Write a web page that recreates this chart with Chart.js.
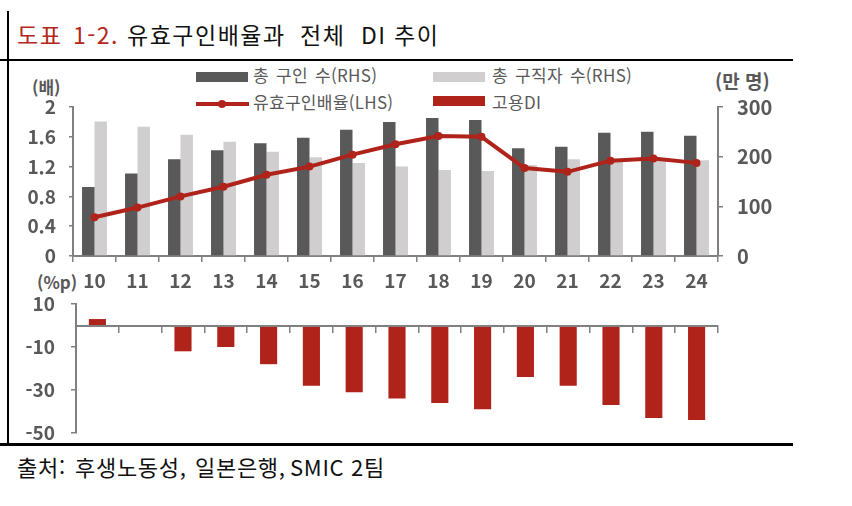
<!DOCTYPE html>
<html lang="ko">
<head>
<meta charset="utf-8">
<title>유효구인배율과 전체 DI 추이</title>
<script src="https://cdn.jsdelivr.net/npm/chart.js@4.4.1/dist/chart.umd.min.js"></script>
<style>
  body { margin: 0; background: #fff; font-family: 'Noto Sans CJK KR', 'Noto Sans', sans-serif; }
  #page { position: relative; width: 852px; height: 506px; overflow: hidden; }
  .tt { position: absolute; top: 19px; font-size: 23px; letter-spacing: 1.5px; color: #111; line-height: 30px; white-space: nowrap; }
  .tt.red { color: #b5261c; }
  .rule { position: absolute; background: #000; }
  .lg { position: absolute; font-size: 17px; letter-spacing: 0.3px; word-spacing: 2px; color: #595959; line-height: 20px; white-space: nowrap; }
  .unit { position: absolute; font-size: 17px; font-weight: 600; color: #595959; line-height: 20px; white-space: nowrap; }
  .src { position: absolute; top: 452px; font-size: 22px; letter-spacing: 0.7px; color: #111; line-height: 28px; white-space: nowrap; }
  #topBox { position: absolute; left: 0; top: 90px; width: 790px; height: 206px; }
  #botBox { position: absolute; left: 0; top: 290px; width: 790px; height: 155px; }
</style>
</head>
<body>
<div id="page">
  <div class="tt red" style="left:17px">도표</div>
  <div class="tt red" style="left:73px">1-2.</div>
  <div class="tt" style="left:127px">유효구인배율과</div>
  <div class="tt" style="left:300px">전체</div>
  <div class="tt" style="left:361px">DI</div>
  <div class="tt" style="left:394px">추이</div>

  <div class="rule" style="left:0;top:59px;width:793px;height:2px"></div>
  <div class="rule" style="left:7px;top:11px;width:2px;height:435px"></div>
  <div class="rule" style="left:0;top:443px;width:793px;height:3px"></div>

  <!-- 범례 -->
  <div class="lg" style="left:196px;top:72px;width:52px;height:10px;background:#595959"></div>
  <div class="lg" style="left:253px;top:65px">총 구인 수(RHS)</div>
  <div class="lg" style="left:196px;top:102px;width:53px;height:4px;background:#b0231a"></div>
  <div class="lg" style="left:218px;top:100px;width:8px;height:8px;border-radius:50%;background:#b0231a"></div>
  <div class="lg" style="left:253px;top:92px">유효구인배율(LHS)</div>
  <div class="lg" style="left:433px;top:72px;width:52px;height:10px;background:#d0cece"></div>
  <div class="lg" style="left:492px;top:65px">총 구직자 수(RHS)</div>
  <div class="lg" style="left:433px;top:96px;width:52px;height:10px;background:#b0231a"></div>
  <div class="lg" style="left:492px;top:92px">고용DI</div>

  <div class="unit" style="left:32px;top:77px">(배)</div>
  <div class="unit" style="left:715px;top:71px;font-size:19px">(만 명)</div>
  <div class="unit" style="left:37px;top:272px">(%p)</div>

  <div id="topBox"><canvas id="chartTop"></canvas></div>
  <div id="botBox"><canvas id="chartBot"></canvas></div>

  <div class="src" style="left:17px">출처:</div>
  <div class="src" style="left:75px">후생노동성,</div>
  <div class="src" style="left:195px">일본은행,</div>
  <div class="src" style="left:290px">SMIC 2팀</div>
</div>

<script>
// ===== 데이터 =====
const anos = ['10', '11', '12', '13', '14', '15', '16', '17', '18', '19', '20', '21', '22', '23', '24'];
const guinSu = [139, 166, 195, 213, 227, 238, 254, 270, 278, 274, 217, 220, 248, 250, 242];      // 총 구인 수 (만 명)
const gujikjaSu = [271, 260, 244, 230, 210, 199, 187, 180, 173, 171, 183, 195, 191, 192, 193];   // 총 구직자 수 (만 명)
const baeyul = [0.52, 0.65, 0.80, 0.93, 1.09, 1.20, 1.36, 1.50, 1.61, 1.60, 1.18, 1.13, 1.28, 1.31, 1.25]; // 유효구인배율 (배)
const goyongDI = [3, 0, -12, -10, -18, -28, -31, -34, -36, -39, -24, -28, -37, -43, -44];         // 고용DI (%p)
const ticksEsq = [0, 0.4, 0.8, 1.2, 1.6, 2];
const ticksDir = [0, 100, 200, 300];
const ticksDI = [10, -10, -30, -50];

const CINZA = '#595959';
const CINZA_CLARO = '#d0cece';
const VERMELHO = '#b0231a';
const EIXO = '#808080';
const FONTE = "'Noto Sans CJK KR', 'Noto Sans', sans-serif";

Chart.defaults.font.family = FONTE;
Chart.defaults.color = CINZA;
Chart.defaults.animation = false;

// largura fixa do eixo e sem folga extra em cima/embaixo
function fixaEixo(largura) {
  return s => {
    s.width = largura;
    s.paddingTop = 0;
    s.paddingBottom = 0;
  };
}

// ===== 위쪽 그래프 =====
new Chart(document.getElementById('chartTop'), {
  type: 'bar',
  data: {
    labels: anos,
    datasets: [
      {
        type: 'line',
        label: '유효구인배율(LHS)',
        data: baeyul,
        yAxisID: 'yL',
        borderColor: VERMELHO,
        backgroundColor: VERMELHO,
        borderWidth: 4,
        pointRadius: 4,
        pointBackgroundColor: VERMELHO,
        pointBorderWidth: 0,
        tension: 0,
        order: 0
      },
      {
        label: '총 구인 수(RHS)',
        data: guinSu,
        yAxisID: 'yR',
        backgroundColor: CINZA,
        categoryPercentage: 0.58,
        barPercentage: 1.0,
        order: 1
      },
      {
        label: '총 구직자 수(RHS)',
        data: gujikjaSu,
        yAxisID: 'yR',
        backgroundColor: CINZA_CLARO,
        categoryPercentage: 0.58,
        barPercentage: 1.0,
        order: 1
      }
    ]
  },
  options: {
    responsive: true,
    maintainAspectRatio: false,
    layout: { padding: { top: 17, left: 0, right: 0, bottom: 0 } },
    plugins: { legend: { display: false }, tooltip: { enabled: false } },
    scales: {
      x: {
        grid: { offset: true, drawOnChartArea: false, drawTicks: true, tickLength: 6, color: EIXO, lineWidth: 1.5 },
        border: { color: EIXO, width: 2 },
        ticks: { font: { size: 19, weight: '600' }, color: CINZA, padding: 7, maxRotation: 0 },
        afterFit: s => { s.height = 40; }
      },
      yL: {
        position: 'left',
        min: 0, max: 2,
        afterBuildTicks: s => { s.ticks = ticksEsq.map(v => ({ value: v })); },
        ticks: { font: { size: 19, weight: '600' }, color: CINZA, padding: 13, callback: v => String(+v.toFixed(1)) },
        grid: { drawOnChartArea: false, drawTicks: true, tickLength: 4, color: EIXO, lineWidth: 1.5 },
        border: { color: EIXO, width: 2 },
        afterFit: fixaEixo(73)
      },
      yR: {
        position: 'right',
        min: 0, max: 300,
        afterBuildTicks: s => { s.ticks = ticksDir.map(v => ({ value: v })); },
        ticks: { font: { size: 20, weight: '600' }, color: CINZA, padding: 14 },
        grid: { drawOnChartArea: false, drawTicks: true, tickLength: 5, color: EIXO, lineWidth: 1.5 },
        border: { color: EIXO, width: 2 },
        afterFit: fixaEixo(72)
      }
    }
  }
});

// ===== 아래쪽 그래프 (고용DI) =====
new Chart(document.getElementById('chartBot'), {
  type: 'bar',
  data: {
    labels: anos,
    datasets: [{
      label: '고용DI',
      data: goyongDI,
      backgroundColor: VERMELHO,
      categoryPercentage: 1.0,
      barPercentage: 0.4
    }]
  },
  options: {
    responsive: true,
    maintainAspectRatio: false,
    layout: { padding: { top: 14, left: 0, right: 72, bottom: 12 } },
    plugins: { legend: { display: false }, tooltip: { enabled: false } },
    scales: {
      x: {
        position: { y: 0 },
        grid: { offset: true, drawOnChartArea: false, drawTicks: true, tickLength: 6, color: EIXO, lineWidth: 1.5 },
        border: { color: EIXO, width: 2, z: 1 },
        ticks: { display: false }
      },
      y: {
        position: 'left',
        min: -50, max: 10,
        afterBuildTicks: s => { s.ticks = ticksDI.map(v => ({ value: v })); },
        ticks: { font: { size: 19, weight: '600' }, color: CINZA, padding: 16 },
        grid: { drawOnChartArea: false, drawTicks: true, tickLength: 5, color: EIXO, lineWidth: 1.5 },
        border: { color: EIXO, width: 2 },
        afterFit: fixaEixo(76)
      }
    }
  }
});
</script>
</body>
</html>
